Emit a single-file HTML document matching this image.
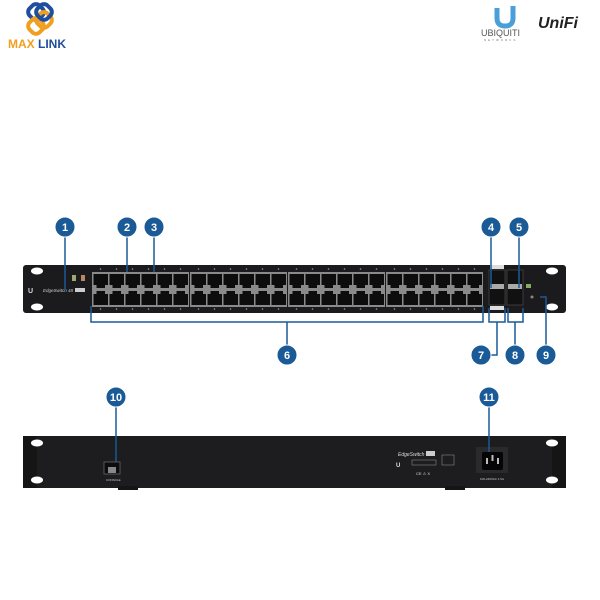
<!DOCTYPE html>
<html><head><meta charset="utf-8"><style>
html,body{margin:0;padding:0;background:#fff;width:600px;height:600px;overflow:hidden}
svg{display:block;font-family:"Liberation Sans",sans-serif}
</style></head><body>
<svg id="s" width="600" height="600" viewBox="0 0 600 600" xmlns="http://www.w3.org/2000/svg">
<g fill="none" stroke-width="4" stroke-linecap="round">
<rect x="29" y="5" width="14" height="14" rx="5" transform="rotate(45 36 12)" stroke="#1f4e9c"/>
<rect x="37" y="13" width="14" height="14" rx="5" transform="rotate(45 44 20)" stroke="#f0a020"/>
<rect x="29" y="19" width="14" height="14" rx="5" transform="rotate(45 36 26)" stroke="#f0a020"/>
<rect x="37" y="5" width="14" height="14" rx="5" transform="rotate(45 44 12)" stroke="#1f4e9c"/>
</g>
<text x="8" y="48" font-size="12" font-weight="bold" fill="#f0a020">MAX</text>
<text x="38" y="48" font-size="12" font-weight="bold" fill="#1f4e9c">LINK</text>
<path d="M497 8 v10 q0 8 8 8 q8 0 8 -8 v-12" fill="none" stroke="#4a9fd8" stroke-width="5"/>
<text x="481" y="36" font-size="9" fill="#555">UBIQUITI</text>
<text x="484" y="41" font-size="3" fill="#777" letter-spacing="2">NETWORKS</text>
<text x="538" y="28" font-size="16" font-style="italic" font-weight="bold" fill="#222">UniFi</text>
<rect x="23" y="265" width="543" height="48" rx="3" fill="#1b1b1d"/>
<ellipse cx="37" cy="271" rx="6" ry="3.5" fill="#fff"/>
<ellipse cx="37" cy="307" rx="6" ry="3.5" fill="#fff"/>
<ellipse cx="552" cy="271" rx="6" ry="3.5" fill="#fff"/>
<ellipse cx="552" cy="307" rx="6" ry="3.5" fill="#fff"/>
<text x="28" y="293" font-size="7" font-weight="bold" fill="#ddd">U</text>
<text x="43" y="292" font-size="4.5" font-style="italic" fill="#ccc">EdgeSwitch 48</text>
<rect x="75" y="288" width="10" height="4" fill="#ccc"/>
<rect x="72" y="275" width="4" height="6" fill="#9a7"/><rect x="81" y="275" width="4" height="6" fill="#b86"/>
<g id="ports"></g>
<rect x="489" y="270" width="16" height="35" fill="#111" stroke="#555" stroke-width="0.6"/>
<rect x="507" y="270" width="16" height="35" fill="#111" stroke="#555" stroke-width="0.6"/>
<rect x="490" y="284" width="14" height="5" fill="#aaa"/>
<rect x="508" y="284" width="14" height="5" fill="#aaa"/>
<rect x="490" y="265" width="14" height="4" fill="#ddd"/>
<rect x="490" y="306" width="14" height="4" fill="#ddd"/>
<rect x="526" y="284" width="5" height="4" fill="#8a6"/>
<circle cx="532" cy="297" r="1.5" fill="#888"/>
<rect x="23" y="436" width="543" height="52" rx="3" fill="#1d1d1f"/>
<rect x="23" y="436" width="14" height="52" fill="#151515"/>
<rect x="552" y="436" width="14" height="52" fill="#151515"/>
<ellipse cx="37" cy="443" rx="6" ry="3.5" fill="#fff"/>
<ellipse cx="37" cy="480" rx="6" ry="3.5" fill="#fff"/>
<ellipse cx="552" cy="443" rx="6" ry="3.5" fill="#fff"/>
<ellipse cx="552" cy="480" rx="6" ry="3.5" fill="#fff"/>
<rect x="104" y="462" width="16" height="12" fill="#0c0c0c" stroke="#666" stroke-width="0.8"/>
<rect x="108" y="467" width="8" height="6" fill="#888"/>
<text x="106" y="481" font-size="3" fill="#ccc">CONSOLE</text>
<text x="398" y="456" font-size="5" font-style="italic" fill="#ddd">EdgeSwitch 48</text>
<rect x="426" y="451" width="9" height="5" fill="#ccc"/>
<rect x="412" y="460" width="24" height="5" fill="none" stroke="#999" stroke-width="0.5"/>
<rect x="442" y="455" width="12" height="10" fill="none" stroke="#888" stroke-width="0.6"/>
<text x="396" y="467" font-size="6" font-weight="bold" fill="#ddd">U</text>
<text x="416" y="475" font-size="4" fill="#ddd">CE ⚠ X</text>
<rect x="476" y="447" width="32" height="26" fill="#2a2a2c"/>
<rect x="482" y="452" width="21" height="18" rx="2" fill="#050505"/>
<rect x="486" y="458" width="2" height="6" fill="#bbb"/><rect x="491.5" y="455" width="2" height="6" fill="#bbb"/><rect x="497" y="458" width="2" height="6" fill="#bbb"/>
<text x="480" y="480" font-size="3" fill="#ccc">100-240VAC 1.5A</text>
<g fill="#151515"><rect x="118" y="486" width="20" height="4"/><rect x="445" y="486" width="20" height="4"/></g>
<g fill="none" stroke="#1a5a96" stroke-width="1.5">
<path d="M65 230 V290"/><path d="M127 230 V272"/><path d="M154 230 V272"/>
<path d="M491 230 V288"/><path d="M519 230 V288"/>
<path d="M91 306 V322 H483 V306 M287 322 V350"/>
<path d="M489 308 V322 H505 V308 M497 322 V355 H485"/>
<path d="M508 308 V322 H523 V308 M515 322 V350"/>
<path d="M546 350 V297 H540"/>
<path d="M116 400 V462"/><path d="M489 400 V452"/>
</g>
<g id="badges" font-size="11" font-weight="bold" fill="#fff" text-anchor="middle"></g>
</svg>
<script>
var p=document.getElementById('ports'),h='';
[92,190,288,386].forEach(function(x0){
 h+='<rect x="'+x0+'" y="272" width="97" height="35" fill="#8a8a8a"/>';
 for(var i=0;i<6;i++){var x=x0+1.5+i*16;
  h+='<path d="M'+x+' 274 h14.5 v11 h-3 v3 h-8.5 v-3 h-3 z" fill="#0d0d0d"/>';
  h+='<path d="M'+x+' 305 h14.5 v-11 h-3 v-3 h-8.5 v3 h-3 z" fill="#0d0d0d"/>';
  h+='<circle cx="'+(x+7)+'" cy="269" r="0.8" fill="#999"/><circle cx="'+(x+7)+'" cy="309" r="0.8" fill="#999"/>';}
});
p.innerHTML=h;
var b=[[65,227,1],[127,227,2],[154,227,3],[491,227,4],[519,227,5],[287,355,6],[481,355,7],[515,355,8],[546,355,9],[116,397,10],[489,397,11]],s='';
b.forEach(function(c){s+='<circle cx="'+c[0]+'" cy="'+c[1]+'" r="10" fill="#1a5a96" stroke="#fff" stroke-width="1"/><text x="'+c[0]+'" y="'+(c[1]+4)+'">'+c[2]+'</text>';});
document.getElementById('badges').innerHTML=s;
</script>
</body></html>
